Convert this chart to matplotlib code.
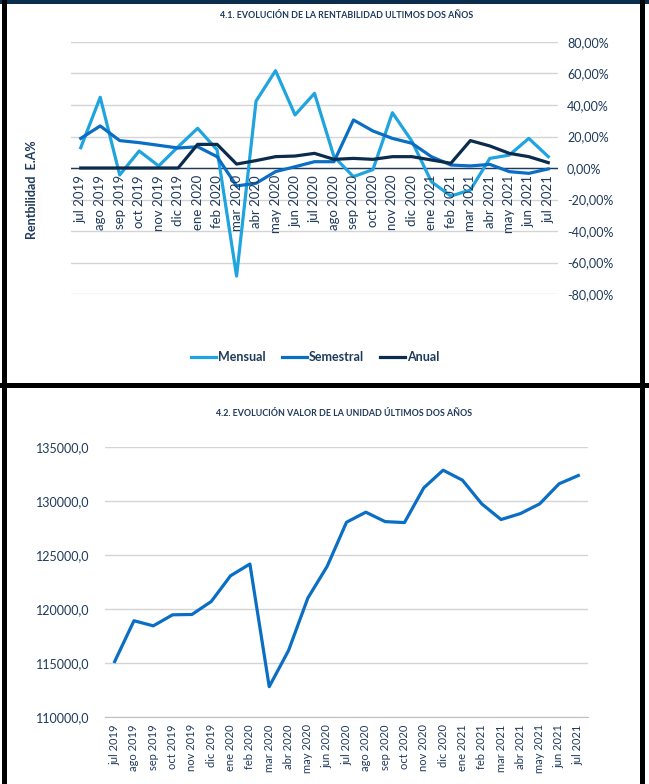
import matplotlib.pyplot as plt
from matplotlib.patches import Rectangle

plt.rcParams['font.family'] = ['Lato', 'DejaVu Sans']

# datos
meses = ['jul 2019', 'ago 2019', 'sep 2019', 'oct 2019', 'nov 2019', 'dic 2019',
         'ene 2020', 'feb 2020', 'mar 2020', 'abr 2020', 'may 2020', 'jun 2020',
         'jul 2020', 'ago 2020', 'sep 2020', 'oct 2020', 'nov 2020', 'dic 2020',
         'ene 2021', 'feb 2021', 'mar 2021', 'abr 2021', 'may 2021', 'jun 2021',
         'jul 2021']
mensual = [12.9, 44.9, -4.4, 10.8, 1.3, 13.5, 25.2, 11.5, -68.6, 42.5, 61.8, 33.7,
           47.4, 7.2, -5.5, -1.0, 35.1, 17.0, -8.7, -17.8, -14.0, 6.1, 8.2, 18.8, 7.2]
semestral = [18.8, 26.7, 17.4, 16.1, 14.4, 12.7, 13.5, 7.2, -11.4, -9.7, -2.3, 0.8,
             4.0, 4.0, 30.5, 23.5, 18.8, 15.7, 7.2, 1.9, 1.3, 2.3, -2.3, -3.4, -0.6]
anual = [0, 0, 0, 0, 0, 0, 15.0, 15.0, 2.5, 4.7, 7.2, 7.6,
         9.3, 5.5, 6.1, 5.5, 7.2, 7.2, 5.1, 3.0, 17.4, 14.0, 9.3, 7.2, 3.4]
valor_unidad = [115150, 118920, 118450, 119470, 119500, 120700, 123080, 124160,
                112830, 116170, 121020, 123950, 128020, 128950, 128080, 127990,
                131200, 132830, 131910, 129720, 128270, 128820, 129720, 131570,
                132340]

c_mens = '#1FA4DF'
c_sem = '#0A6FC4'
c_anu = '#0B2C4D'
c_txt = '#1F3A5C'
c_grid = '#D4D4D4'

W, H = 649, 784
fig = plt.figure(figsize=(W / 100, H / 100), dpi=100)


def fx(px):
    return px / W


def fy(py):
    return 1 - py / H


x = list(range(len(meses)))

# ---- grafico 4.1 ----
ax1 = fig.add_axes([fx(71), fy(294), fx(558) - fx(71), fy(42) - fy(294)])
ax1.plot(x, mensual, color=c_mens, lw=2.3, label='Mensual', zorder=3)
ax1.plot(x, semestral, color=c_sem, lw=2.3, label='Semestral', zorder=4)
ax1.plot(x, anual, color=c_anu, lw=2.3, label='Anual', zorder=5)
ax1.set_xlim(-0.5, len(meses) - 0.5)
ax1.set_ylim(-80, 80)
ax1.set_yticks(range(-80, 81, 20))
ax1.set_yticklabels([f'{v:,.2f}%'.replace('.', ',') for v in range(-80, 81, 20)])
ax1.yaxis.tick_right()
ax1.tick_params(axis='y', length=0, pad=6.5, labelsize=9, labelcolor=c_txt)
ax1.set_xticks([])
ax1.grid(axis='y', color=c_grid, lw=1)
ax1.set_axisbelow(True)
for s in ax1.spines.values():
    s.set_visible(False)
ax1.axhline(0, color=c_txt, lw=1, zorder=2)
for i, m in enumerate(meses):
    ax1.annotate(m, (i, 0), xytext=(0, -5), textcoords='offset points',
                 rotation=90, ha='center', va='top', fontsize=9.5, color=c_txt,
                 zorder=6)
fig.text(fx(32), fy(190), 'Rentbilidad  E.A%', rotation=90, ha='center',
         va='center', fontsize=9, fontweight='bold', color=c_txt)
fig.text(fx(347), fy(15), '4.1. EVOLUCIÓN DE LA RENTABILIDAD ULTIMOS DOS AÑOS',
         ha='center', va='center', fontsize=6.4, fontweight='bold', color=c_txt)
fig.legend(handles=ax1.get_lines()[:3], loc='center',
           bbox_to_anchor=(fx(315), fy(357)), ncol=3, frameon=False,
           handlelength=2.0, handletextpad=0.15, columnspacing=1.3,
           prop={'weight': 'bold', 'size': 9}, labelcolor=c_txt)

# ---- grafico 4.2 ----
ax2 = fig.add_axes([fx(105), fy(717.3), fx(588) - fx(105), fy(446.7) - fy(717.3)])
ax2.plot(x, valor_unidad, color=c_sem, lw=2.3)
ax2.set_xlim(-0.5, len(meses) - 0.5)
ax2.set_ylim(110000, 135000)
ax2.set_yticks(range(110000, 135001, 5000))
ax2.set_yticklabels([f'{v},0' for v in range(110000, 135001, 5000)])
ax2.set_xticks(x)
ax2.set_xticklabels(meses, rotation=90, va='top', ha='center')
ax2.tick_params(axis='y', length=0, pad=11, labelsize=9, labelcolor=c_txt)
ax2.tick_params(axis='x', length=0, pad=5, labelsize=8, labelcolor=c_txt)
ax2.grid(axis='y', color=c_grid, lw=1)
ax2.set_axisbelow(True)
for s in ax2.spines.values():
    s.set_visible(False)
ax2.spines['bottom'].set_visible(True)
ax2.spines['bottom'].set_color('#BFBFBF')
fig.text(fx(344), fy(414), '4.2. EVOLUCIÓN VALOR DE LA UNIDAD ÚLTIMOS DOS AÑOS',
         ha='center', va='center', fontsize=6.4, fontweight='bold', color=c_txt)

# ---- marcos ----
def caja(x0, y0, x1, y1, color):
    fig.add_artist(Rectangle((fx(x0), fy(y1)), fx(x1) - fx(x0), fy(y0) - fy(y1),
                             transform=fig.transFigure, color=color, lw=0))

caja(0, 0, W, 4, '#0C2E4E')
caja(2, 0, 7, H, 'black')
caja(640, 0, 645, H, 'black')
caja(0, 383, W, 388, 'black')

fig.savefig('out.png', dpi=100)
